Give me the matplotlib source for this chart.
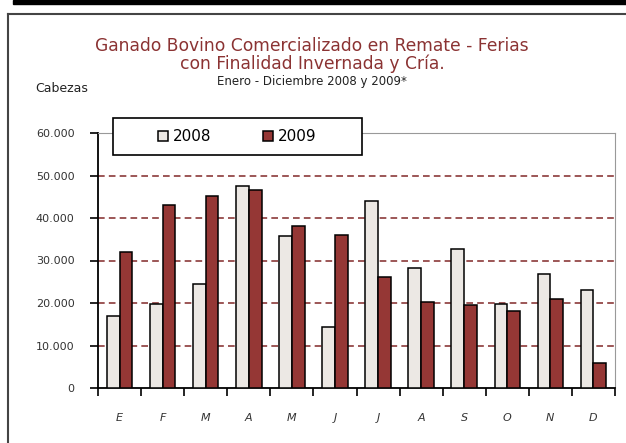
import numpy as np
import matplotlib.pyplot as plt
from matplotlib.patches import Rectangle
from matplotlib.lines import Line2D

plt.rcParams['font.family'] = ['DejaVu Sans']

# Data
months = ['E', 'F', 'M', 'A', 'M', 'J', 'J', 'A', 'S', 'O', 'N', 'D']
y2008 = [17000, 19800, 24500, 47600, 35700, 14300, 44000, 28200, 32700, 19800, 26900, 23100]
y2009 = [31900, 43100, 45200, 46500, 38100, 36000, 26100, 20200, 19500, 18100, 21000, 6000]
yticks = [0, 10000, 20000, 30000, 40000, 50000, 60000]
ytick_labels = ['0', '10.000', '20.000', '30.000', '40.000', '50.000', '60.000']

c2008 = '#ECE8E4'
c2009 = '#953735'
title_col = '#8B3333'

fig = plt.figure(figsize=(6.26, 4.43), dpi=100)
W, H = 626, 443

# page frame: black top bar + left/top border lines
fig.patches.append(Rectangle((13 / W, 1 - 4 / H), 1, 4 / H, transform=fig.transFigure,
                             color='black', zorder=0))
fig.lines.append(Line2D([8 / W, 1], [1 - 13.5 / H] * 2, transform=fig.transFigure,
                        color='#444444', lw=1.5))
fig.lines.append(Line2D([8 / W] * 2, [0, 1 - 13.5 / H], transform=fig.transFigure,
                        color='#444444', lw=1.5))

ax = fig.add_axes([98 / W, 1 - 388 / H, (615 - 98) / W, (388 - 133) / H])

x = np.arange(len(months))
w = 0.295
ax.bar(x - w / 2, y2008, w, color=c2008, edgecolor='black', linewidth=1.1, zorder=3, label='2008')
ax.bar(x + w / 2, y2009, w, color=c2009, edgecolor='black', linewidth=1.1, zorder=3, label='2009')

ax.set_xlim(-0.5, len(months) - 0.5)
ax.set_ylim(0, 60000)
ax.set_yticks(yticks)
ax.set_yticklabels(ytick_labels, fontsize=8, color='#333333')
ax.set_xticks(np.arange(-0.5, len(months), 1))
ax.set_xticklabels([])
ax.set_xticks(x, minor=True)
ax.set_xticklabels(months, minor=True, fontsize=8, style='italic', color='#333333')
ax.tick_params(axis='x', which='minor', length=0, pad=18)
ax.tick_params(axis='x', which='major', length=6, width=1.2, direction='out', color='black')
ax.tick_params(axis='y', length=6, width=1.2, direction='out', pad=11)

for v in yticks[1:-1]:
    ax.axhline(v, color='#8B3A3A', lw=1.2, ls=(0, (4, 2.5)), zorder=1)

ax.spines['left'].set_linewidth(1.3)
ax.spines['bottom'].set_linewidth(1.3)
ax.spines['top'].set_color('#999999')
ax.spines['right'].set_color('#999999')

leg = fig.legend(loc='center', bbox_to_anchor=(113 / W, 1 - 155 / H, (362 - 113) / W, (155 - 118) / H),
                 ncol=2, fontsize=11, frameon=False,
                 handlelength=0.65, handleheight=0.65, handletextpad=0.3, borderaxespad=0,
                 borderpad=0, columnspacing=3.4)
fig.patches.append(Rectangle((113 / W, 1 - 155 / H), (362 - 113) / W, (155 - 118) / H,
                             transform=fig.transFigure, facecolor='white', edgecolor='black',
                             lw=1.2, zorder=5))
leg.set_zorder(10)

fig.text(312 / W, 1 - 46 / H, 'Ganado Bovino Comercializado en Remate - Ferias',
         ha='center', va='center', fontsize=12.3, color=title_col)
fig.text(312 / W, 1 - 64 / H, 'con Finalidad Invernada y Cría.',
         ha='center', va='center', fontsize=12.3, color=title_col)
fig.text(312 / W, 1 - 82 / H, 'Enero - Diciembre 2008 y 2009*',
         ha='center', va='center', fontsize=8.5, color='#222222')
fig.text(35 / W, 1 - 89 / H, 'Cabezas', ha='left', va='center', fontsize=9,
         color='#222222')

fig.savefig('out.png', dpi=100)
